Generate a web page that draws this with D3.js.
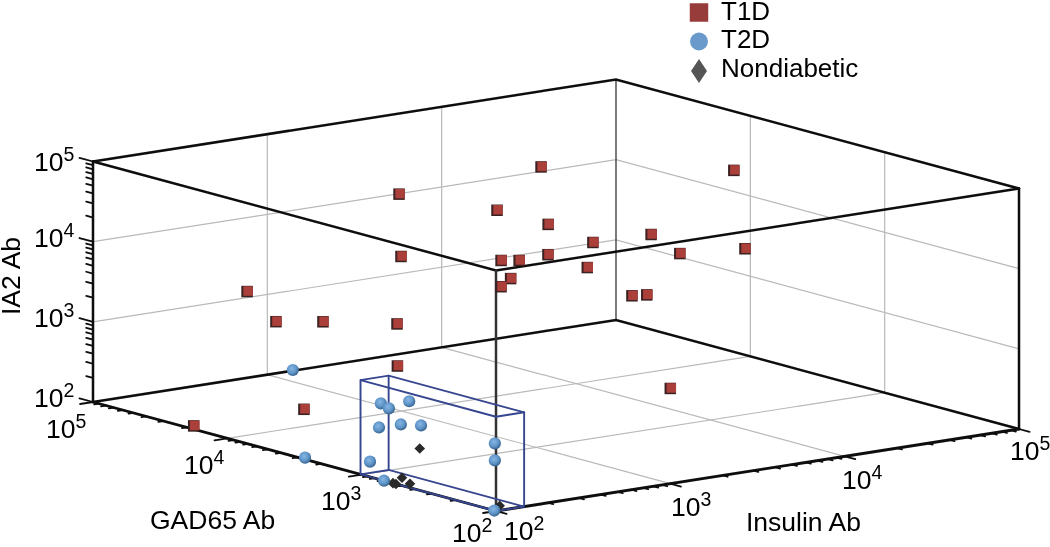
<!DOCTYPE html>
<html><head><meta charset="utf-8">
<script src="https://cdnjs.cloudflare.com/ajax/libs/d3/7.8.5/d3.min.js"></script>
<style>
html,body{margin:0;padding:0;background:#fff}
svg{display:block}
text{font-family:"Liberation Sans",Arial,sans-serif;fill:#000}
</style></head><body>
<svg id="c" width="1050" height="547"></svg>
<script>
// Values: insulin Ab, GAD65 Ab, IA2 Ab
const t1dInsulin=[33100,4420,966,1450,1670,11100,2120,2380,15800,11400,695,1530,2320,2800,1220,630,2490,3030,315,190,248,387,228,14300,275,100];
const t1dGad=[3160,6310,10000,3160,1580,3160,1000,2510,1000,2000,6310,3160,3980,1580,2000,1000,631,631,31600,10000,6310,3160,1580,3160,10000,17800];
const t1dIa2=[51300,82200,51300,47400,41200,11800,27800,12400,11700,8320,11800,11000,8590,10000,8690,11800,7010,6730,2720,2290,2570,2840,1390,130,163,110];
const t2dInsulin=[1400,112,120,132,100,112,126,100,100,100,100,100,100];
const t2dGad=[100000,834,794,635,743,592,488,867,682,102,102,103,2640];
const t2dIa2=[102,810,701,920,444,516,526,155,100,692,424,100,105];
const ndInsulin=[112,100,100,100,100,105];
const ndGad=[428,501,556,585,437,100];
const ndIa2=[299,125,100,100,112,114];
const boxInsulin=[100,145];
const boxGad=[100,1020];
const boxIa2=[100,1500];
const decades=[100,1000,10000,100000];
const legendNames=["T1D","T2D","Nondiabetic"];

const root=d3.select("#c");
const defs=root.append("defs");
const sph=defs.append("radialGradient").attr("id","sph").attr("cx","42%").attr("cy","38%").attr("r","62%");
sph.append("stop").attr("offset","0%").attr("stop-color","#86b6e4");
sph.append("stop").attr("offset","60%").attr("stop-color","#5f95c8");
sph.append("stop").attr("offset","100%").attr("stop-color","#37638f");
defs.append("filter").attr("id","soft").attr("filterUnits","userSpaceOnUse")
  .attr("x",0).attr("y",0).attr("width",1050).attr("height",547)
  .append("feGaussianBlur").attr("stdDeviation",0.35);
const svg=root.append("g").attr("filter","url(#soft)");

const domain=[100,100000];
const sI=d3.scaleLog().domain(domain).range([0,1]);
const sG=d3.scaleLog().domain(domain).range([0,1]);
const sA=d3.scaleLog().domain(domain).range([0,1]);
const O=[496,511], vI=[523,-82], vG=[-403,-109], vA=[0,-240.5];
function proj(i,g,a){
  const u=sI(i),v=sG(g),w=sA(a);
  return [O[0]+u*vI[0]+v*vG[0]+w*vA[0], O[1]+u*vI[1]+v*vG[1]+w*vA[1]];
}
const line=d3.line();
function seg(pts,color,w){
  svg.append("path").attr("d",line(pts)).attr("fill","none").attr("stroke",color).attr("stroke-width",w).attr("stroke-linecap","round");
}
const lo=domain[0],hi=domain[1];
const inner=decades.slice(1,3);
const gridC="#b9b9b9";
inner.forEach(d=>{
  seg([proj(lo,hi,d),proj(hi,hi,d),proj(hi,lo,d)],gridC,1.2);
  seg([proj(d,hi,lo),proj(d,hi,hi)],gridC,1.2);
  seg([proj(hi,d,lo),proj(hi,d,hi)],gridC,1.2);
  seg([proj(d,lo,lo),proj(d,hi,lo)],gridC,1.2);
  seg([proj(lo,d,lo),proj(hi,d,lo)],gridC,1.2);
});
const K="#0a0a0a";
seg([proj(hi,hi,lo),proj(hi,hi,hi)],"#444",1.4);
seg([proj(lo,hi,lo),proj(hi,hi,lo),proj(hi,lo,lo)],K,2.5);
seg([proj(lo,hi,hi),proj(hi,hi,hi),proj(hi,lo,hi)],K,2.5);
seg([proj(lo,hi,hi),proj(lo,lo,hi),proj(hi,lo,hi)],K,2.5);
seg([proj(lo,hi,lo),proj(lo,hi,hi)],K,2.5);
seg([proj(hi,lo,lo),proj(hi,lo,hi)],K,2.5);
seg([proj(lo,lo,lo),proj(lo,lo,hi)],"#333",2.5);
seg([proj(lo,lo,lo),proj(hi,lo,lo)],K,2.8);
seg([proj(lo,lo,lo),proj(lo,hi,lo)],K,2.8);

const dirI=[134,36], dirG=[-174,27], dirA=[-134,-36];
function unit(d,l){const n=Math.hypot(d[0],d[1]);return [d[0]/n*l,d[1]/n*l];}
function tick(p,d,l,w){const u=unit(d,l);seg([p,[p[0]+u[0],p[1]+u[1]]],K,w);}
const tickVals=[];
decades.forEach(d=>{ if(d<hi) for(let m=2;m<10;m++) tickVals.push(m*d); });
tickVals.forEach(t=>{
  tick(proj(t,lo,lo),dirI,5,1.8);
  tick(proj(lo,t,lo),dirG,5,1.8);
  tick(proj(lo,hi,t),dirA,7,1.8);
});
decades.forEach(d=>{
  tick(proj(d,lo,lo),dirI,11,1.8);
  tick(proj(lo,d,lo),dirG,13,1.8);
  tick(proj(lo,hi,d),dirA,14,1.8);
});

const B="#36458f";
const [bi0,bi1]=boxInsulin,[bg0,bg1]=boxGad,[ba0,ba1]=boxIa2;
const bx=(a)=>[proj(bi0,bg0,a),proj(bi1,bg0,a),proj(bi1,bg1,a),proj(bi0,bg1,a),proj(bi0,bg0,a)];
seg(bx(ba0),B,1.9);seg(bx(ba1),B,1.9);
[[bi1,bg0],[bi1,bg1],[bi0,bg1]].forEach(c=>seg([proj(c[0],c[1],ba0),proj(c[0],c[1],ba1)],B,1.9));

function pow(x,y,e){
  const t=svg.append("text").attr("x",x).attr("y",y).attr("font-size",26.5);
  t.append("tspan").text("10");
  t.append("tspan").attr("dy",-10.5).attr("font-size",19.5).text(e);
}
const iaLabels=[[34,171,"5"],[34,247,"4"],[34,327,"3"],[34,407,"2"]];
const gadLabels=[[46,438,"5"],[184,474,"4"],[321,510,"3"],[452,542,"2"]];
const insLabels=[[504,540,"2"],[671,516,"3"],[842,489,"4"],[1010,460,"5"]];
[...iaLabels,...gadLabels,...insLabels].forEach(l=>pow(l[0],l[1],l[2]));
svg.append("text").attr("x",150).attr("y",529).attr("font-size",26.5).text("GAD65 Ab");
svg.append("text").attr("x",746).attr("y",531).attr("font-size",26.5).text("Insulin Ab");
svg.append("text").attr("transform","translate(20,315) rotate(-90)").attr("font-size",26.5).text("IA2 Ab");

function cube(p){
  const g=svg.append("g").attr("transform",`translate(${p[0]},${p[1]})`);
  g.append("path").attr("d",d3.symbol().type(d3.symbolSquare).size(132)()).attr("fill","#3a2020");
  g.append("path").attr("d",d3.symbol().type(d3.symbolSquare).size(90)()).attr("transform","translate(1,-0.5)").attr("fill","#ab3f3b");
}
function ball(p){
  svg.append("path").attr("d",d3.symbol().type(d3.symbolCircle).size(Math.PI*6.1*6.1)()).attr("transform",`translate(${p[0]},${p[1]})`).attr("fill","url(#sph)");
}
function dia(p){
  svg.append("path").attr("d",d3.symbol().type(d3.symbolSquare).size(56)()).attr("transform",`translate(${p[0]},${p[1]}) rotate(45)`).attr("fill","#2a2a2a");
}
ndInsulin.forEach((v,i)=>dia(proj(v,ndGad[i],ndIa2[i])));
t2dInsulin.forEach((v,i)=>ball(proj(v,t2dGad[i],t2dIa2[i])));
t1dInsulin.forEach((v,i)=>cube(proj(v,t1dGad[i],t1dIa2[i])));

svg.append("path").attr("d",d3.symbol().type(d3.symbolSquare).size(342)()).attr("transform","translate(699,12.5)").attr("fill","#983b3b");
svg.append("path").attr("d",d3.symbol().type(d3.symbolCircle).size(Math.PI*81)()).attr("transform","translate(699,41.5)").attr("fill","#6a9acb");
svg.append("path").attr("d",d3.line()([[699,59],[707,71],[699,83],[691,71]])+"Z").attr("fill","#555");
legendNames.forEach((n,i)=>svg.append("text").attr("x",721).attr("y",[20,48,77][i]).attr("font-size",26).text(n));
</script></body></html>
